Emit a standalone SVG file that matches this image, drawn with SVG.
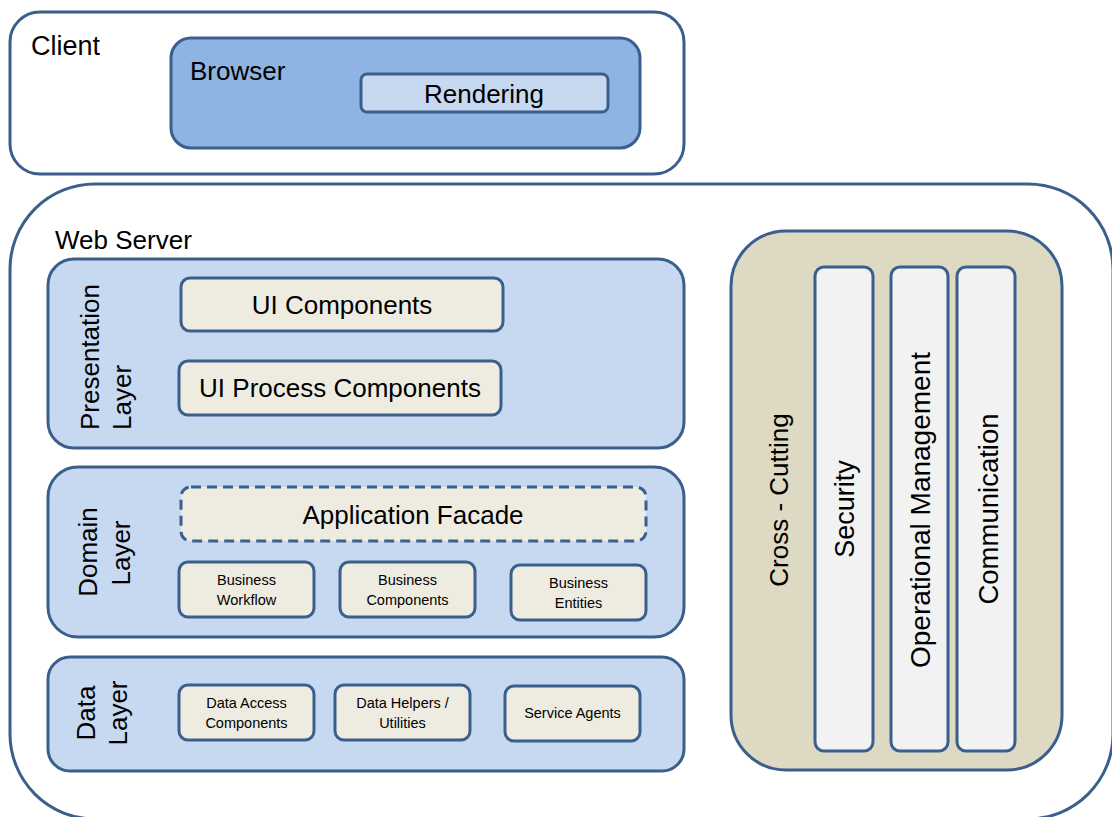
<svg xmlns="http://www.w3.org/2000/svg" width="1112" height="817" viewBox="0 0 1112 817">
  <style>
    .frame { fill: #ffffff; stroke: #3b5f8c; stroke-width: 3; }
    .browser { fill: #8eb4e3; stroke: #3b5f8c; stroke-width: 3; }
    .layer { fill: #c6d9f1; stroke: #3b5f8c; stroke-width: 3; }
    .comp { fill: #eeece1; stroke: #3b5f8c; stroke-width: 3; }
    .dashed { stroke-dasharray: 10 6; }
    .cross { fill: #ddd9c3; stroke: #3b5f8c; stroke-width: 3; }
    .strip { fill: #f2f2f2; stroke: #3b5f8c; stroke-width: 3; }
    text { font-family: "Liberation Sans", Arial, sans-serif; fill: #000000; }
    .big { font-size: 26px; }
    .small { font-size: 14.5px; text-anchor: middle; }
    .mid { text-anchor: middle; }
  </style>

  <!-- Client tier -->
  <g id="client">
    <rect class="frame" x="10" y="12" width="674" height="162" rx="30"/>
    <text class="big" x="31" y="55" style="font-size:27px">Client</text>
  </g>
  <g id="browser">
    <rect class="browser" x="171" y="38" width="469" height="110" rx="20"/>
    <text class="big" x="190" y="80">Browser</text>
  </g>
  <g id="rendering">
    <rect class="layer" x="361" y="74" width="247" height="38" rx="6"/>
    <text class="big mid" x="484" y="103">Rendering</text>
  </g>

  <!-- Web server tier -->
  <g id="web-server">
    <rect class="frame" x="10" y="184" width="1103" height="635" rx="85"/>
    <text class="big" x="55" y="249">Web Server</text>
  </g>

  <!-- Presentation layer -->
  <g id="presentation-layer">
    <rect class="layer" x="48" y="259" width="636" height="189" rx="26"/>
    <text class="big" transform="translate(99,430) rotate(-90)">Presentation</text>
    <text class="big" transform="translate(131,430) rotate(-90)">Layer</text>
  </g>
  <g id="ui-components">
    <rect class="comp" x="181" y="278" width="322" height="53" rx="9"/>
    <text class="big mid" x="342" y="314">UI Components</text>
  </g>
  <g id="ui-process-components">
    <rect class="comp" x="179" y="361" width="322" height="54" rx="9"/>
    <text class="big mid" x="340" y="397">UI Process Components</text>
  </g>

  <!-- Domain layer -->
  <g id="domain-layer">
    <rect class="layer" x="48" y="467" width="636" height="170" rx="30"/>
    <text class="big mid" transform="translate(97,552) rotate(-90)">Domain</text>
    <text class="big mid" transform="translate(130,553) rotate(-90)">Layer</text>
  </g>
  <g id="application-facade">
    <rect class="comp dashed" x="181" y="487" width="465" height="54" rx="10"/>
    <text class="big mid" x="413" y="524">Application Facade</text>
  </g>
  <g id="business-workflow">
    <rect class="comp" x="179" y="562" width="135" height="55" rx="9"/>
    <text class="small" x="246.5" y="585">Business</text>
    <text class="small" x="246.5" y="605">Workflow</text>
  </g>
  <g id="business-components">
    <rect class="comp" x="340" y="562" width="135" height="55" rx="9"/>
    <text class="small" x="407.5" y="585">Business</text>
    <text class="small" x="407.5" y="605">Components</text>
  </g>
  <g id="business-entities">
    <rect class="comp" x="511" y="565" width="135" height="55" rx="9"/>
    <text class="small" x="578.5" y="588">Business</text>
    <text class="small" x="578.5" y="608">Entities</text>
  </g>

  <!-- Data layer -->
  <g id="data-layer">
    <rect class="layer" x="48" y="657" width="636" height="114" rx="22"/>
    <text class="big mid" transform="translate(95,713) rotate(-90)">Data</text>
    <text class="big mid" transform="translate(127,713) rotate(-90)">Layer</text>
  </g>
  <g id="data-access-components">
    <rect class="comp" x="179" y="685" width="135" height="55" rx="9"/>
    <text class="small" x="246.5" y="708">Data Access</text>
    <text class="small" x="246.5" y="728">Components</text>
  </g>
  <g id="data-helpers">
    <rect class="comp" x="335" y="685" width="135" height="55" rx="9"/>
    <text class="small" x="402.5" y="708">Data Helpers /</text>
    <text class="small" x="402.5" y="728">Utilities</text>
  </g>
  <g id="service-agents">
    <rect class="comp" x="505" y="686" width="135" height="55" rx="9"/>
    <text class="small" x="572.5" y="718">Service Agents</text>
  </g>

  <!-- Cross-cutting concerns -->
  <g id="cross-cutting">
    <rect class="cross" x="731" y="231" width="331" height="539" rx="55"/>
    <text class="big mid" transform="translate(788,500) rotate(-90)">Cross - Cutting</text>
  </g>
  <g id="security">
    <rect class="strip" x="815" y="267" width="58" height="484" rx="9"/>
    <text class="big mid" transform="translate(854,509) rotate(-90)" style="font-size:27px">Security</text>
  </g>
  <g id="operational-management">
    <rect class="strip" x="891" y="267" width="57" height="484" rx="9"/>
    <text class="big mid" transform="translate(930,510) rotate(-90)" style="font-size:28px">Operational Management</text>
  </g>
  <g id="communication">
    <rect class="strip" x="957" y="267" width="58" height="484" rx="9"/>
    <text class="big mid" transform="translate(998,509) rotate(-90)" style="font-size:27.5px">Communication</text>
  </g>

  <!-- No connectors are drawn in this diagram -->
  <g id="connectors"/>
</svg>
